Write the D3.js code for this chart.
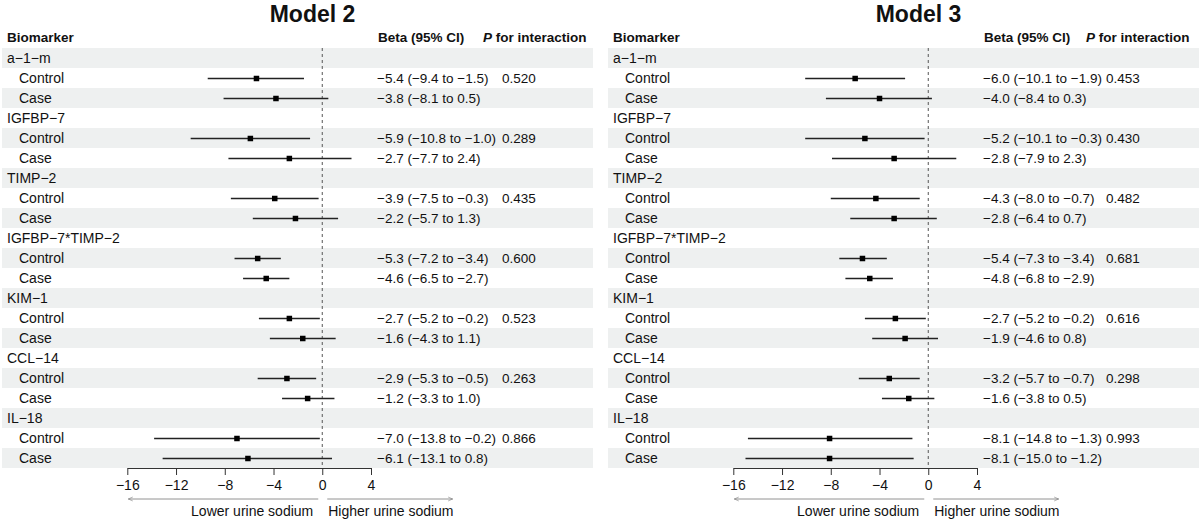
<!DOCTYPE html>
<html lang="en">
<head>
    <meta charset="UTF-8">
    <title>Forest plot - Model 2 and Model 3</title>
    <script src="https://d3js.org/d3.v7.min.js"></script>
    <style>
        body {
            margin: 0;
            padding: 0;
            background: #fff;
            font-family: "Liberation Sans", Arial, Helvetica, sans-serif;
        }
        svg text { fill: #111; }
        .axis path, .axis line { stroke: #333; }
        .axis text { font-size: 14px; font-family: "Liberation Sans", Arial, sans-serif; fill: #111; }
    </style>
</head>
<body>
<div id="chart"></div>
<script>
    // data
    const biomarkers = ["a\u22121\u2212m", "IGFBP\u22127", "TIMP\u22122", "IGFBP\u22127*TIMP\u22122", "KIM\u22121", "CCL\u221214", "IL\u221218"];
    const groups = ["Control", "Case"];
    const models = ["Model 2", "Model 3"];

    // one value per (biomarker, group): Control, Case, Control, Case ...
    const model2Beta = [-5.4, -3.8, -5.9, -2.7, -3.9, -2.2, -5.3, -4.6, -2.7, -1.6, -2.9, -1.2, -7.0, -6.1];
    const model2Low  = [-9.4, -8.1, -10.8, -7.7, -7.5, -5.7, -7.2, -6.5, -5.2, -4.3, -5.3, -3.3, -13.8, -13.1];
    const model2High = [-1.5, 0.5, -1.0, 2.4, -0.3, 1.3, -3.4, -2.7, -0.2, 1.1, -0.5, 1.0, -0.2, 0.8];
    const model2P    = ["0.520", "0.289", "0.435", "0.600", "0.523", "0.263", "0.866"];

    const model3Beta = [-6.0, -4.0, -5.2, -2.8, -4.3, -2.8, -5.4, -4.8, -2.7, -1.9, -3.2, -1.6, -8.1, -8.1];
    const model3Low  = [-10.1, -8.4, -10.1, -7.9, -8.0, -6.4, -7.3, -6.8, -5.2, -4.6, -5.7, -3.8, -14.8, -15.0];
    const model3High = [-1.9, 0.3, -0.3, 2.3, -0.7, 0.7, -3.4, -2.9, -0.2, 0.8, -0.7, 0.5, -1.3, -1.2];
    const model3P    = ["0.453", "0.430", "0.482", "0.681", "0.616", "0.298", "0.993"];

    const tickValues = [-16, -12, -8, -4, 0, 4];
    const arrowLabels = ["Lower urine sodium", "Higher urine sodium"];

    const width = 1200, height = 520;
    const panelWidth = 606;
    const rowH = 20, firstRowY = 58;
    const fmt = d3.format(".1f");

    const svg = d3.select("#chart").append("svg")
        .attr("width", width)
        .attr("height", height);

    const defs = svg.append("defs");
    defs.append("marker")
        .attr("id", "arrowhead")
        .attr("viewBox", "0 0 10 10")
        .attr("refX", 9).attr("refY", 5)
        .attr("markerWidth", 7).attr("markerHeight", 7)
        .attr("orient", "auto-start-reverse")
        .append("path")
        .attr("d", "M1,1.5 L9,5 L1,8.5")
        .attr("fill", "none")
        .attr("stroke", "#777")
        .attr("stroke-width", 1);

    // build the row table for one model
    function buildRows(beta, low, high, pvals) {
        const rows = [];
        biomarkers.forEach((b, i) => {
            rows.push({type: "head", label: b});
            groups.forEach((g, j) => {
                const k = i * 2 + j;
                rows.push({
                    type: "item",
                    label: g,
                    beta: beta[k], low: low[k], high: high[k],
                    text: `${fmt(beta[k])} (${fmt(low[k])} to ${fmt(high[k])})`,
                    p: j === 0 ? pvals[i] : ""
                });
            });
        });
        return rows;
    }

    const modelRows = [
        buildRows(model2Beta, model2Low, model2High, model2P),
        buildRows(model3Beta, model3Low, model3High, model3P)
    ];
    const pValueX = [502, 500];
    const pHeadX = [483, 480];

    models.forEach((name, m) => {
        const rows = modelRows[m];
        const g = svg.append("g")
            .attr("transform", `translate(${m * panelWidth},0)`);

        const x = d3.scaleLinear().domain([-16, 4]).range([127.3, 371]);
        const y = i => firstRowY + i * rowH;
        const bottom = y(rows.length - 1) + rowH / 2;

        // shaded bands
        g.append("g").selectAll("rect")
            .data(rows.filter((d, i) => i % 2 === 0).map((d, k) => k * 2))
            .join("rect")
            .attr("x", 2)
            .attr("y", i => y(i) - rowH / 2)
            .attr("width", 591)
            .attr("height", rowH)
            .attr("fill", "#eef0f0");

        // title
        g.append("text")
            .attr("x", 312.5).attr("y", 22)
            .attr("text-anchor", "middle")
            .style("font-size", "23px")
            .style("font-weight", "bold")
            .text(name);

        // column headers
        g.append("text")
            .attr("x", 7).attr("y", 42)
            .style("font-size", "13.5px").style("font-weight", "bold")
            .text("Biomarker");
        g.append("text")
            .attr("x", 378).attr("y", 42)
            .style("font-size", "13.5px").style("font-weight", "bold")
            .text("Beta (95% CI)");
        const ph = g.append("text")
            .attr("x", pHeadX[m]).attr("y", 42)
            .style("font-size", "13.5px").style("font-weight", "bold");
        ph.append("tspan").style("font-style", "italic").text("P");
        ph.append("tspan").text(" for interaction");

        // row labels
        g.append("g").selectAll("text")
            .data(rows)
            .join("text")
            .attr("x", d => d.type === "head" ? 7 : 19)
            .attr("y", (d, i) => y(i))
            .attr("dy", "0.36em")
            .style("font-size", "14px")
            .text(d => d.label);

        // estimate text and p values
        const items = rows.map((d, i) => ({...d, i})).filter(d => d.type === "item");
        g.append("g").selectAll("text")
            .data(items)
            .join("text")
            .attr("x", 377)
            .attr("y", d => y(d.i))
            .attr("dy", "0.36em")
            .style("font-size", "13.5px")
            .text(d => d.text);
        g.append("g").selectAll("text")
            .data(items.filter(d => d.p))
            .join("text")
            .attr("x", pValueX[m])
            .attr("y", d => y(d.i))
            .attr("dy", "0.36em")
            .style("font-size", "13.5px")
            .text(d => d.p);

        // reference line at 0
        g.append("line")
            .attr("x1", x(0)).attr("x2", x(0))
            .attr("y1", firstRowY - rowH / 2).attr("y2", bottom)
            .attr("stroke", "#555")
            .attr("stroke-width", 1)
            .attr("stroke-dasharray", "3,3");

        // CI lines and squares
        g.append("g").selectAll("line")
            .data(items)
            .join("line")
            .attr("x1", d => x(d.low)).attr("x2", d => x(d.high))
            .attr("y1", d => y(d.i) + 0.5).attr("y2", d => y(d.i) + 0.5)
            .attr("stroke", "#222")
            .attr("stroke-width", 1.3);
        const box = 5.5;
        g.append("g").selectAll("rect")
            .data(items)
            .join("rect")
            .attr("x", d => x(d.beta) - box / 2)
            .attr("y", d => y(d.i) + 0.5 - box / 2)
            .attr("width", box).attr("height", box)
            .attr("fill", "#000");

        // x axis
        g.append("g")
            .attr("class", "axis")
            .attr("transform", `translate(0,${bottom})`)
            .call(d3.axisBottom(x).tickValues(tickValues).tickSize(7).tickSizeOuter(0).tickPadding(5))
            .call(a => a.select(".domain").attr("stroke-width", 1));

        // direction arrows
        const arrowY = 499;
        g.append("line")
            .attr("x1", x(0) - 4).attr("x2", x(-16) + 1)
            .attr("y1", arrowY).attr("y2", arrowY)
            .attr("stroke", "#777").attr("stroke-width", 0.8)
            .attr("marker-end", "url(#arrowhead)");
        g.append("line")
            .attr("x1", x(0) + 5).attr("x2", x(10.7))
            .attr("y1", arrowY).attr("y2", arrowY)
            .attr("stroke", "#777").attr("stroke-width", 0.8)
            .attr("marker-end", "url(#arrowhead)");
        g.append("text")
            .attr("x", x(0) - 9).attr("y", 511)
            .attr("dy", "0.36em")
            .attr("text-anchor", "end")
            .style("font-size", "14px")
            .text(arrowLabels[0]);
        g.append("text")
            .attr("x", x(0) + 6).attr("y", 511)
            .attr("dy", "0.36em")
            .style("font-size", "14px")
            .text(arrowLabels[1]);
    });
</script>
</body>
</html>
